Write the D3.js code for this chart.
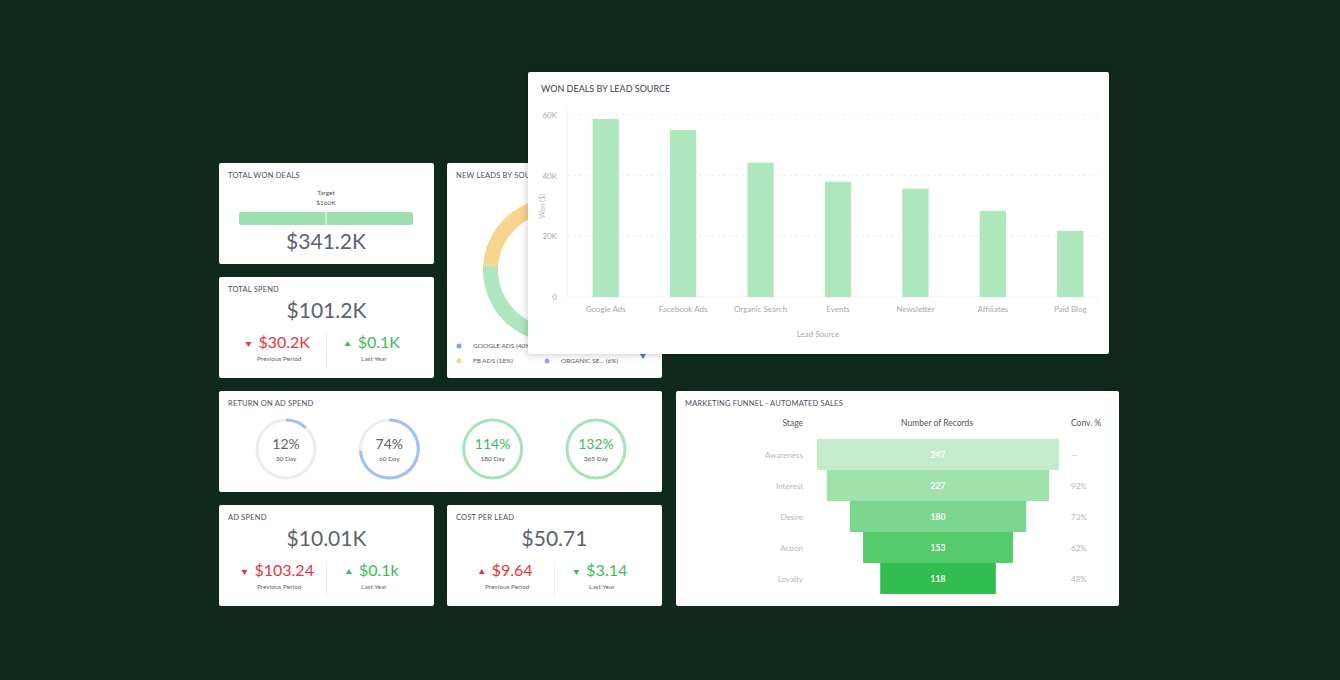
<!DOCTYPE html>
<html><head><meta charset="utf-8">
<script src="https://cdn.jsdelivr.net/npm/d3@7"></script>
<style>
body{margin:0;background:#0f2a1c;font-family:Lato,"Open Sans",sans-serif;}
</style></head>
<body><svg id="dash" width="1340" height="680"></svg>
<script>
// Dashboard recreation
var leadSources = ["Google Ads","Facebook Ads","Organic Search","Events","Newsletter","Affiliates","Paid Blog"];
var wonValues = [58700, 55000, 44300, 38000, 35700, 28400, 21800];
var wonTicks = [0, 20000, 40000, 60000];

var funnelStages = ["Awareness","Interest","Desire","Action","Loyalty"];
var funnelRecords = [247, 227, 180, 153, 118];
var funnelConv = ["—","92%","73%","62%","48%"];
var funnelColors = ["#c4ecca","#a0e2ac","#7ad68c","#55cb6c","#32bd50"];

var roasLabels = ["30 Day","60 Day","180 Day","365 Day"];
var roasValues = [12, 74, 114, 132];

var leadNames = ["Google Ads","Other","Other 2","FB Ads","Organic Search"];
var leadShares = [40, 8, 28, 18, 6];
var leadColors = ["#7aa7f0","#f2a7a7","#aee6bd","#f8d58e","#b0a1ec"];

var svg = d3.select("#dash");
var grey = "#5b6270", red = "#e8333f", green = "#3dbb5a";

function card(x, y, w, h, title){
    var g = svg.append("g").attr("transform", "translate(" + x + "," + y + ")");
    g.append("rect").attr("width", w).attr("height", h).attr("rx", 2).attr("fill", "#fff");
    if (title) g.append("text").attr("x", 9).attr("y", 15).attr("font-size", 7.5)
        .attr("fill", "#4a4f5a").attr("letter-spacing", 0.2).text(title);
    return g;
}

function kpi(g, w, value, left, right){
    g.append("text").attr("x", w/2).attr("y", 41).attr("text-anchor", "middle")
        .attr("font-size", 21).attr("fill", grey).text(value);
    g.append("line").attr("x1", w/2).attr("x2", w/2).attr("y1", 57).attr("y2", 92).attr("stroke", "#eee");
    [left, right].forEach(function(d, i){
        var cx = i ? w*0.72 : w*0.28;
        var col = d.good ? green : red;
        var t = g.append("text").attr("x", cx + 5).attr("y", 71).attr("text-anchor", "middle")
            .attr("font-size", 16).attr("fill", col).text(d.v);
        var bw = t.node().getComputedTextLength();
        var ax = cx + 5 - bw/2 - 10, ay = 67;
        g.append("path").attr("fill", col).attr("d", d.up
            ? "M" + (ax-3) + "," + (ay+2) + "L" + (ax+3) + "," + (ay+2) + "L" + ax + "," + (ay-3) + "Z"
            : "M" + (ax-3) + "," + (ay-2) + "L" + (ax+3) + "," + (ay-2) + "L" + ax + "," + (ay+3) + "Z");
        g.append("text").attr("x", cx).attr("y", 84).attr("text-anchor", "middle")
            .attr("font-size", 6.5).attr("fill", "#666").text(d.l);
    });
}

// Total won deals
var tw = card(219, 163, 215, 101, "TOTAL WON DEALS");
tw.append("text").attr("x", 107).attr("y", 32).attr("text-anchor", "middle").attr("font-size", 6.5).attr("fill", "#555").text("Target");
tw.append("text").attr("x", 107).attr("y", 42).attr("text-anchor", "middle").attr("font-size", 6.5).attr("fill", "#555").text("$160K");
tw.append("rect").attr("x", 20).attr("y", 49).attr("width", 174).attr("height", 13).attr("rx", 2).attr("fill", "#9ddfae");
tw.append("line").attr("x1", 107).attr("x2", 107).attr("y1", 49).attr("y2", 62).attr("stroke", "#fff");
tw.append("text").attr("x", 107).attr("y", 86).attr("text-anchor", "middle").attr("font-size", 21).attr("fill", grey).text("$341.2K");

kpi(card(219, 277, 215, 101, "TOTAL SPEND"), 215, "$101.2K",
    {v:"$30.2K", l:"Previous Period", up:false, good:false}, {v:"$0.1K", l:"Last Year", up:true, good:true});
kpi(card(219, 505, 215, 101, "AD SPEND"), 215, "$10.01K",
    {v:"$103.24", l:"Previous Period", up:false, good:false}, {v:"$0.1k", l:"Last Year", up:true, good:true});
kpi(card(447, 505, 215, 101, "COST PER LEAD"), 215, "$50.71",
    {v:"$9.64", l:"Previous Period", up:true, good:false}, {v:"$3.14", l:"Last Year", up:false, good:true});

// New leads donut
var nl = card(447, 163, 215, 215, "NEW LEADS BY SOURCE");
var pie = d3.pie().sort(null)(leadShares);
var arc = d3.arc().innerRadius(57).outerRadius(72);
nl.append("g").attr("transform", "translate(108,107)").selectAll("path").data(pie).enter()
    .append("path").attr("d", arc).attr("fill", function(d, i){ return leadColors[i]; });
var legend = [{t:"GOOGLE ADS (40%)", c:leadColors[0], x:12, y:185}, {t:"FB ADS (18%)", c:leadColors[3], x:12, y:200},
              {t:"ORGANIC SE... (6%)", c:leadColors[4], x:100, y:200}];
legend.forEach(function(d){
    nl.append("circle").attr("cx", d.x).attr("cy", d.y - 2).attr("r", 2.5).attr("fill", d.c);
    nl.append("text").attr("x", d.x + 14).attr("y", d.y).attr("font-size", 6.5).attr("fill", "#555").text(d.t);
});
nl.append("path").attr("d", "M193,191L199,191L196,196Z").attr("fill", "#4a7fe0");

// ROAS
var ro = card(219, 391, 443, 101, "RETURN ON AD SPEND");
var ringArc = d3.arc().innerRadius(27.5).outerRadius(30.5).startAngle(0);
var roasX = d3.scalePoint().domain(roasLabels).range([67, 377]);
roasLabels.forEach(function(l, i){
    var v = roasValues[i];
    var g = ro.append("g").attr("transform", "translate(" + roasX(l) + ",58)");
    var col = v >= 100 ? "#a6e3b5" : "#9fbff5";
    g.append("path").attr("d", ringArc.endAngle(2*Math.PI)()).attr("fill", v >= 100 ? col : "#eceded");
    if (v < 100) g.append("path").attr("d", ringArc.endAngle(2*Math.PI*v/100)()).attr("fill", col);
    g.append("text").attr("y", 0).attr("text-anchor", "middle").attr("font-size", 14)
        .attr("fill", v >= 100 ? green : grey).text(v + "%");
    g.append("text").attr("y", 12).attr("text-anchor", "middle").attr("font-size", 6.5).attr("fill", "#555").text(l);
});

// Funnel
var fu = card(676, 391, 443, 215, "MARKETING FUNNEL - AUTOMATED SALES");
fu.append("text").attr("x", 127).attr("y", 35).attr("text-anchor", "end").attr("font-size", 8.5).attr("fill", "#555").text("Stage");
fu.append("text").attr("x", 261).attr("y", 35).attr("text-anchor", "middle").attr("font-size", 8.5).attr("fill", "#555").text("Number of Records");
fu.append("text").attr("x", 395).attr("y", 35).attr("font-size", 8.5).attr("fill", "#555").text("Conv. %");
var fy = d3.scaleBand().domain(funnelStages).range([48, 203]).padding(0);
var fw = d3.scaleLinear().domain([0, 247]).range([0, 242]);
funnelStages.forEach(function(s, i){
    var w = fw(funnelRecords[i]);
    fu.append("rect").attr("x", 262 - w/2).attr("y", fy(s)).attr("width", w).attr("height", fy.bandwidth())
        .attr("fill", funnelColors[i]);
    fu.append("text").attr("x", 262).attr("y", fy(s) + fy.bandwidth()/2 + 3.5).attr("text-anchor", "middle")
        .attr("font-size", 8.5).attr("font-weight", "bold").attr("fill", "#fff").text(funnelRecords[i]);
    fu.append("text").attr("x", 127).attr("y", fy(s) + fy.bandwidth()/2 + 3).attr("text-anchor", "end")
        .attr("font-size", 8).attr("fill", "#b5b8bd").text(s);
    fu.append("text").attr("x", 395).attr("y", fy(s) + fy.bandwidth()/2 + 3)
        .attr("font-size", 8).attr("fill", "#b5b8bd").text(funnelConv[i]);
});

// Won deals bar chart (on top)
svg.append("rect").attr("x", 526).attr("y", 71).attr("width", 584).attr("height", 285).attr("fill", "rgba(0,0,0,0.15)").attr("filter", "blur(3px)");
var bc = card(528, 72, 581, 282, null);
bc.append("text").attr("x", 13).attr("y", 20).attr("font-size", 9).attr("fill", "#3d424c").text("WON DEALS BY LEAD SOURCE");
var x = d3.scaleBand().domain(leadSources).range([39, 581]).paddingInner(0.66).paddingOuter(0.33);
var y = d3.scaleLinear().domain([0, 60000]).range([225, 43]);
bc.selectAll(".grid").data(wonTicks.slice(1)).enter().append("line")
    .attr("x1", 39).attr("x2", 570).attr("y1", y).attr("y2", y)
    .attr("stroke", "#eef0f0").attr("stroke-dasharray", "3,3");
bc.append("line").attr("x1", 39).attr("x2", 39).attr("y1", 38).attr("y2", 225).attr("stroke", "#f0f0f0");
bc.append("line").attr("x1", 39).attr("x2", 570).attr("y1", 225).attr("y2", 225).attr("stroke", "#f0f0f0");
bc.selectAll(".bar").data(wonValues).enter().append("rect")
    .attr("x", function(d, i){ return x(leadSources[i]); }).attr("width", x.bandwidth())
    .attr("y", y).attr("height", function(d){ return 225 - y(d); }).attr("fill", "#ade7bb");
var yAxis = bc.append("g").attr("transform", "translate(39,0)")
    .call(d3.axisLeft(y).tickValues(wonTicks).tickSize(0).tickPadding(10).tickFormat(function(d){ return d ? d/1000 + "K" : "0"; }));
yAxis.select(".domain").remove();
yAxis.selectAll("text").attr("font-size", 8).attr("fill", "#a5a9ae").attr("font-family", "Lato");
var xAxis = bc.append("g").attr("transform", "translate(0,225)")
    .call(d3.axisBottom(x).tickSize(0).tickPadding(9));
xAxis.select(".domain").remove();
xAxis.selectAll("text").attr("font-size", 8).attr("fill", "#a5a9ae").attr("font-family", "Lato");
bc.append("text").attr("transform", "translate(17,134) rotate(-90)").attr("text-anchor", "middle")
    .attr("font-size", 7).attr("fill", "#b5b8bd").text("Won ($)");
bc.append("text").attr("x", 290).attr("y", 265).attr("text-anchor", "middle")
    .attr("font-size", 8).attr("fill", "#a5a9ae").text("Lead Source");
</script></body></html>
